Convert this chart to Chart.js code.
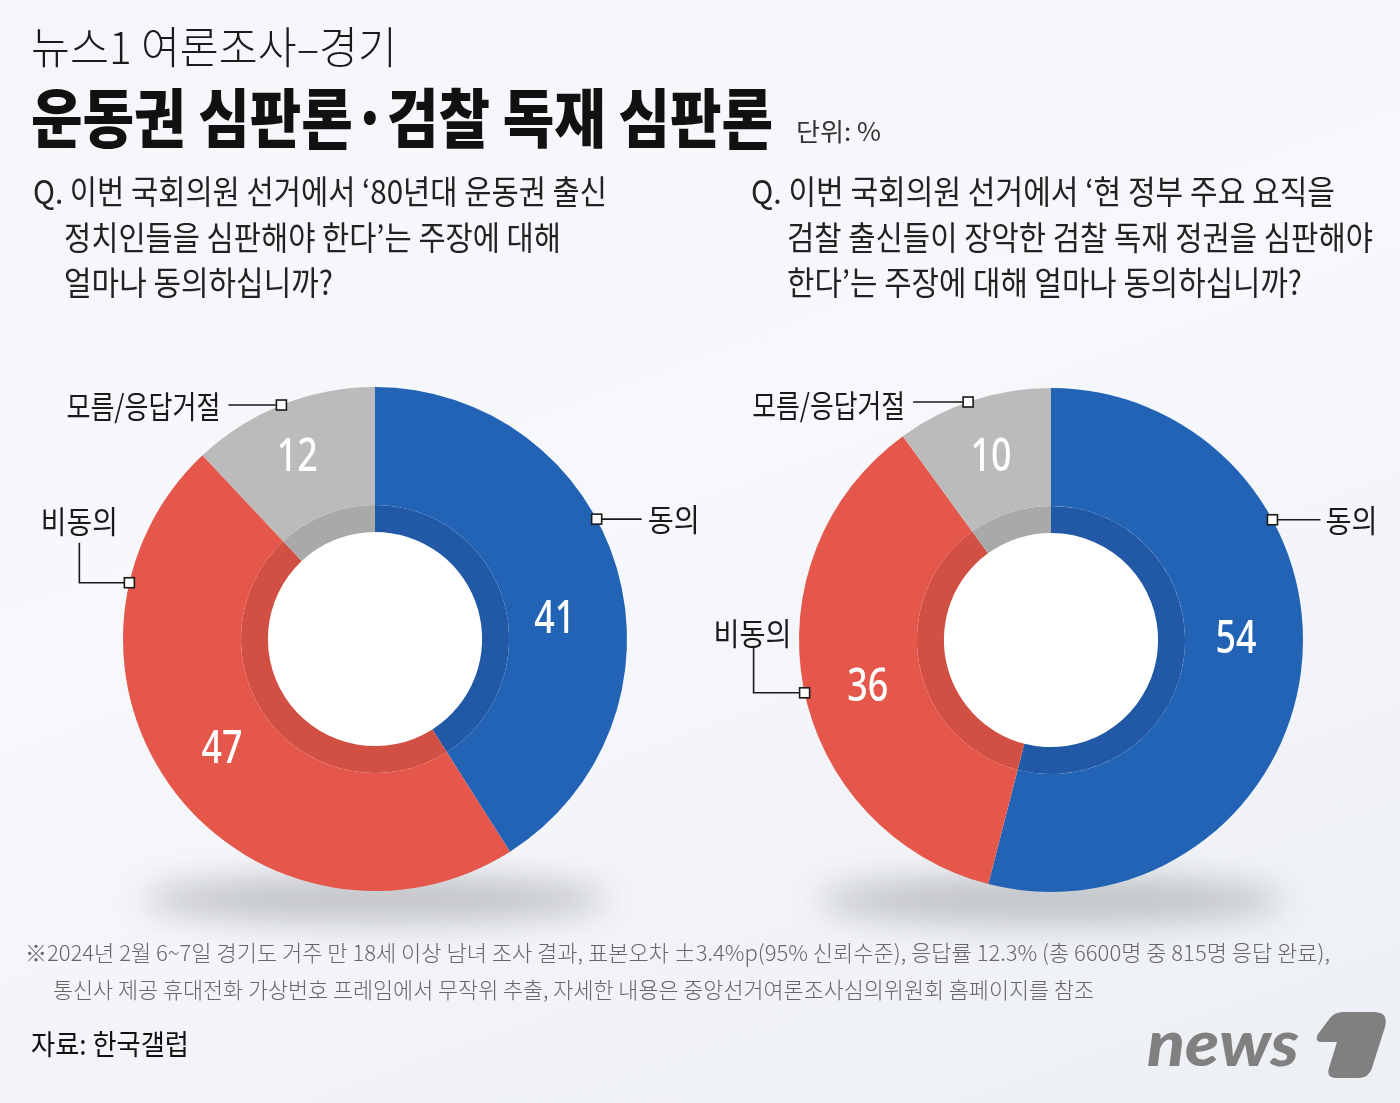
<!DOCTYPE html>
<html><head><meta charset="utf-8">
<script src="https://cdn.jsdelivr.net/npm/chart.js@4.4.1/dist/chart.umd.min.js"></script>
<style>
html,body{margin:0;padding:0;}
body{width:1400px;height:1103px;position:relative;overflow:hidden;
 background:linear-gradient(160deg,#f4f6f9 0%,#f7f8fb 45%,#f1f3f7 75%,#eceff4 100%);
 font-family:"Noto Sans CJK KR","Noto Sans",sans-serif;color:#111;}
.t{position:absolute;white-space:nowrap;line-height:1;transform-origin:0 0;}
.wrap{position:absolute;width:700px;height:600px;}
</style></head><body>
<div class="wrap" style="left:0;top:360px"><canvas id="c1" width="700" height="600"></canvas></div>
<div class="wrap" style="left:700px;top:360px"><canvas id="c2" width="700" height="600"></canvas></div>
<svg style="position:absolute;left:0;top:0" width="1400" height="1103">
  <text id="logoText" x="1147" y="1066" font-family="Lato, Roboto, sans-serif" font-weight="900" font-style="italic" font-size="62" fill="#808080">news</text>
  <path d="M1318,1034 L1330,1018 Q1335,1012 1343,1012 L1374,1012 Q1389,1012 1385,1027 L1372,1068 Q1369,1078 1358,1078 L1336,1078 Q1326,1078 1329,1068 L1337,1042 L1322,1042 Q1314,1042 1318,1034 Z" fill="#808080"/>
</svg>
<script>
// ---------- data ----------
const categories = ['동의', '비동의', '모름/응답거절'];
const valuesMovement = [41, 47, 12];      // 운동권 심판론
const valuesProsecution = [54, 36, 10];   // 검찰 독재 심판론

// ---------- styles ----------
const outerColors = ['#2263B5', '#E5574A', '#BBBBBB'];
const innerColors = ['#2159A6', '#D24F44', '#A9A9A9'];

const deco = {
  id: 'donutDeco',
  beforeDatasetsDraw(chart, args, opts) {
    const arc = chart.getDatasetMeta(0).data[0];
    if (!arc) return;
    const {x, y, outerRadius} = arc.getProps(['x', 'y', 'outerRadius'], true);
    const ctx = chart.ctx;
    ctx.save();
    ctx.filter = 'blur(16px)';
    ctx.fillStyle = 'rgba(70,72,80,0.28)';
    ctx.beginPath();
    ctx.ellipse(x, y + outerRadius + 8, outerRadius * 0.92, 24, 0, 0, Math.PI * 2);
    ctx.fill();
    ctx.restore();
    ctx.save();
    ctx.fillStyle = '#ffffff';
    ctx.beginPath();
    ctx.arc(x, y, outerRadius - 2, 0, Math.PI * 2);
    ctx.fill();
    ctx.restore();
  },
  afterDatasetsDraw(chart, args, opts) {
    const ctx = chart.ctx;
    const meta = chart.getDatasetMeta(0);
    const vals = chart.data.datasets[0].data;
    let cx = 0, cy = 0, R = 0;
    meta.data.forEach((arc, i) => {
      const p = arc.getProps(['x', 'y', 'startAngle', 'endAngle', 'outerRadius'], true);
      cx = p.x; cy = p.y; R = p.outerRadius;
      const pos = opts.labelPos[i];
      const mid = (p.startAngle + p.endAngle) / 2 + pos[0] * Math.PI / 180;
      const lx = p.x + Math.cos(mid) * pos[1];
      const ly = p.y + Math.sin(mid) * pos[1];
      ctx.save();
      ctx.translate(lx, ly);
      ctx.scale(0.78, 1);
      ctx.font = '500 46px "Noto Sans", sans-serif';
      ctx.fillStyle = '#ffffff';
      ctx.textAlign = 'center';
      ctx.textBaseline = 'middle';
      ctx.fillText(String(vals[i]), 0, 2);
      ctx.restore();
    });
    opts.callouts.forEach(c => {
      const a = c.angle * Math.PI / 180;
      const ax = cx + Math.cos(a) * R, ay = cy + Math.sin(a) * R;
      ctx.save();
      ctx.strokeStyle = '#1a1a1a';
      ctx.lineWidth = 1.6;
      ctx.beginPath();
      ctx.moveTo(ax, ay);
      c.path.forEach(pt => ctx.lineTo(ax + pt[0], ay + pt[1]));
      ctx.stroke();
      ctx.fillStyle = '#ffffff';
      ctx.fillRect(ax - 5, ay - 5, 10, 10);
      ctx.strokeRect(ax - 5, ay - 5, 10, 10);
      const label = chart.data.labels[c.index];
      ctx.font = '31px "Noto Sans CJK KR", sans-serif';
      const nat = ctx.measureText(label).width;
      ctx.translate(ax + c.tx, ay + c.ty);
      ctx.scale(c.w / nat, 1);
      ctx.textAlign = c.align;
      ctx.textBaseline = 'middle';
      ctx.fillStyle = '#1a1a1a';
      ctx.fillText(label, 0, 0);
      ctx.restore();
    });
  }
};

function makeChart(id, values, padding, labelPos, callouts) {
  return new Chart(document.getElementById(id), {
    type: 'doughnut',
    data: {
      labels: categories,
      datasets: [
        {data: values, backgroundColor: outerColors, borderWidth: 0, weight: 118},
        {data: values, backgroundColor: innerColors, borderWidth: 0, weight: 27}
      ]
    },
    options: {
      responsive: false,
      animation: false,
      cutout: '42.5%',
      layout: {padding},
      plugins: {
        legend: {display: false},
        tooltip: {enabled: false},
        donutDeco: {labelPos, callouts}
      }
    },
    plugins: [deco]
  });
}

function place(txt, x, cy, w, size, weight, color) {
  const el = document.createElement('div');
  el.className = 't';
  el.textContent = txt;
  el.style.fontSize = size + 'px';
  el.style.fontWeight = weight;
  el.style.color = color;
  document.body.appendChild(el);
  const nat = el.getBoundingClientRect().width;
  el.style.left = x + 'px';
  el.style.top = (cy - size * 0.56) + 'px';
  el.style.transform = 'scaleX(' + (w / nat) + ')';
}

function build() {
  place('뉴스1 여론조사–경기', 31, 48, 366, 44, 300, '#1a1a1a');
  place('운동권 심판론·검찰 독재 심판론', 31, 118, 742, 64, 900, '#111111');
  place('단위: %', 796, 132, 85, 25, 400, '#333333');

  place('Q. 이번 국회의원 선거에서 ‘80년대 운동권 출신', 33, 192, 574, 33, 400, '#222222');
  place('정치인들을 심판해야 한다’는 주장에 대해', 64, 238, 497, 33, 400, '#222222');
  place('얼마나 동의하십니까?', 64, 283, 269, 33, 400, '#222222');

  place('Q. 이번 국회의원 선거에서  ‘현 정부 주요 요직을', 751, 192, 584, 33, 400, '#222222');
  place('검찰 출신들이 장악한 검찰 독재 정권을 심판해야', 787, 238, 586, 33, 400, '#222222');
  place('한다’는 주장에 대해 얼마나 동의하십니까?', 787, 283, 515, 33, 400, '#222222');

  place('※2024년 2월 6~7일 경기도 거주 만 18세 이상 남녀 조사 결과, 표본오차 ±3.4%p(95% 신뢰수준), 응답률 12.3% (총 6600명 중 815명 응답 완료),', 25, 952, 1305, 22, 300, '#666666');
  place('통신사 제공 휴대전화 가상번호 프레임에서 무작위 추출, 자세한 내용은 중앙선거여론조사심의위원회 홈페이지를 참조', 53, 989, 1041, 22, 300, '#666666');
  place('자료: 한국갤럽', 31, 1045, 158, 28, 400, '#111111');

  const lt = document.getElementById('logoText');
  const bb = lt.getBBox();
  lt.setAttribute('transform', 'translate(1147,0) scale(' + (152 / bb.width) + ',1) translate(-1147,0)');

  makeChart('c1', valuesMovement,
    {left: 123, top: 27, right: 73, bottom: 69},
    [[9.5, 181], [2.3, 188], [-1.4, 199]],
    [
      {index: 0, angle: -28.4, path: [[45, 0]], tx: 51, ty: 0, align: 'left', w: 52},
      {index: 1, angle: -167.1, path: [[-50, 0], [-50, -40]], tx: -50, ty: -62, align: 'center', w: 77},
      {index: 2, angle: -111.8, path: [[-53, 0]], tx: -61, ty: 1, align: 'right', w: 154}
    ]);
  makeChart('c2', valuesProsecution,
    {left: 99, top: 28, right: 97, bottom: 68},
    [[-7.8, 185], [-3.3, 189], [0, 194]],
    [
      {index: 0, angle: -28.5, path: [[48, 0]], tx: 53, ty: 0, align: 'left', w: 52},
      {index: 1, angle: 167.9, path: [[-51, 0], [-51, -47]], tx: -52, ty: -60, align: 'center', w: 78},
      {index: 2, angle: -109.2, path: [[-55, 0]], tx: -63, ty: 3, align: 'right', w: 153}
    ]);
}
if (document.fonts && document.fonts.ready) document.fonts.ready.then(build); else build();
</script>
</body></html>
